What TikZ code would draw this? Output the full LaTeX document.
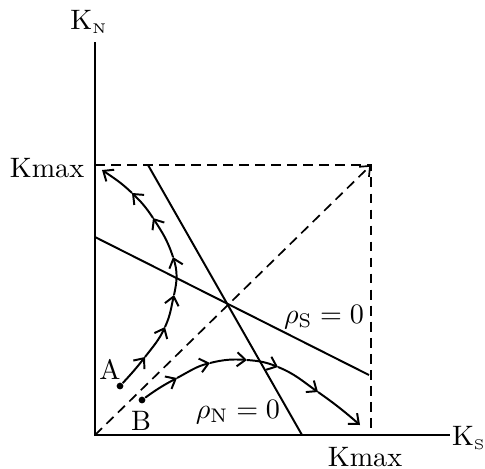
\documentclass[tikz,border=0pt]{standalone}
\usepackage{amsmath}
\usetikzlibrary{arrows.meta}

\begin{document}
\begin{tikzpicture}[
        x=0.25cm, y=0.25cm,
        every node/.style={font=\normalsize, inner sep=1pt},
        axis/.style={line width=0.8pt},
        nullcline/.style={line width=0.7pt},
        guide/.style={line width=0.6pt, dash pattern=on 3.5pt off 2.2pt},
        barb/.tip={Straight Barb[length=3pt, width=5pt]},
        traj/.style={line width=0.7pt, -barb},
        dot/.style={circle, fill, inner sep=0pt, minimum size=2.4pt}
    ]
        \useasboundingbox (-4.75,-1.65) rectangle (19.5,21.75);

        % axes and the Kmax box
        \coordinate (O)    at (0,0);
        \coordinate (ytop) at (0,19.65);
        \coordinate (xend) at (17.75,0);
        \coordinate (M)    at (13.8,13.5);
        \coordinate (My)   at (0,13.5);
        \coordinate (Mx)   at (13.8,0);

        \draw[axis] (ytop) -- (O) -- (xend);
        \draw[guide] (My) -- (M) -- (Mx);
        \draw[guide, -barb] (O) -- (M);

        \node (kN)    at (-0.3,20.65) {K$_{\scriptscriptstyle\mathrm{N}}$};
        \node (kS)    at (18.7,-0.15) {K$_{\scriptscriptstyle\mathrm{S}}$};
        \node (kmaxN) at (-2.4,13.35) {Kmax};
        \node (kmaxS) at (13.5,-1.1)  {Kmax};

        % isoclines
        \coordinate (n1) at (2.65,13.5);
        \coordinate (n2) at (10.35,0);
        \coordinate (s1) at (0,9.9);
        \coordinate (s2) at (13.7,3);
        \draw[nullcline] (n1) -- (n2);
        \draw[nullcline] (s1) -- (s2);
        \node (rhoS) at (11.45,5.9) {$\rho_{\mathrm{S}} = 0$};
        \node (rhoN) at (7.15,1.15) {$\rho_{\mathrm{N}} = 0$};

        % trajectories
        \node[dot] (ptA) at (1.25,2.45) {};
        \node[dot] (ptB) at (2.35,1.75) {};
        \node (lA) at (0.75,3.3) {A};
        \node (lB) at (2.3,0.7)  {B};

        \coordinate (a1) at (2.5,3.9);
        \coordinate (a2) at (3.5,5.4);
        \coordinate (a3) at (3.95,7);
        \coordinate (a4) at (3.9,8.9);
        \coordinate (a5) at (2.9,10.85);
        \coordinate (a6) at (1.85,12.1);
        \coordinate (a7) at (0.35,13.25);

        \coordinate (b1) at (4.1,2.85);
        \coordinate (b2) at (5.75,3.6);
        \coordinate (b3) at (7.6,3.75);
        \coordinate (b4) at (9.15,3.4);
        \coordinate (b5) at (11.15,2.15);
        \coordinate (b6) at (13.25,0.5);

        \foreach \ps/\pe/\ao/\ai in {ptA/a1/47/232, a1/a2/52/245, a2/a3/65/257,
                a3/a4/77/288, a4/a5/108/303, a5/a6/123/316, a6/a7/136/326,
                ptB/b1/36/208, b1/b2/28/194, b2/b3/14/176, b3/b4/-4/158,
                b4/b5/-22/145, b5/b6/-35/139}
            \draw[traj] (\ps) to[out=\ao, in=\ai] (\pe);
    \end{tikzpicture}
\end{document}
